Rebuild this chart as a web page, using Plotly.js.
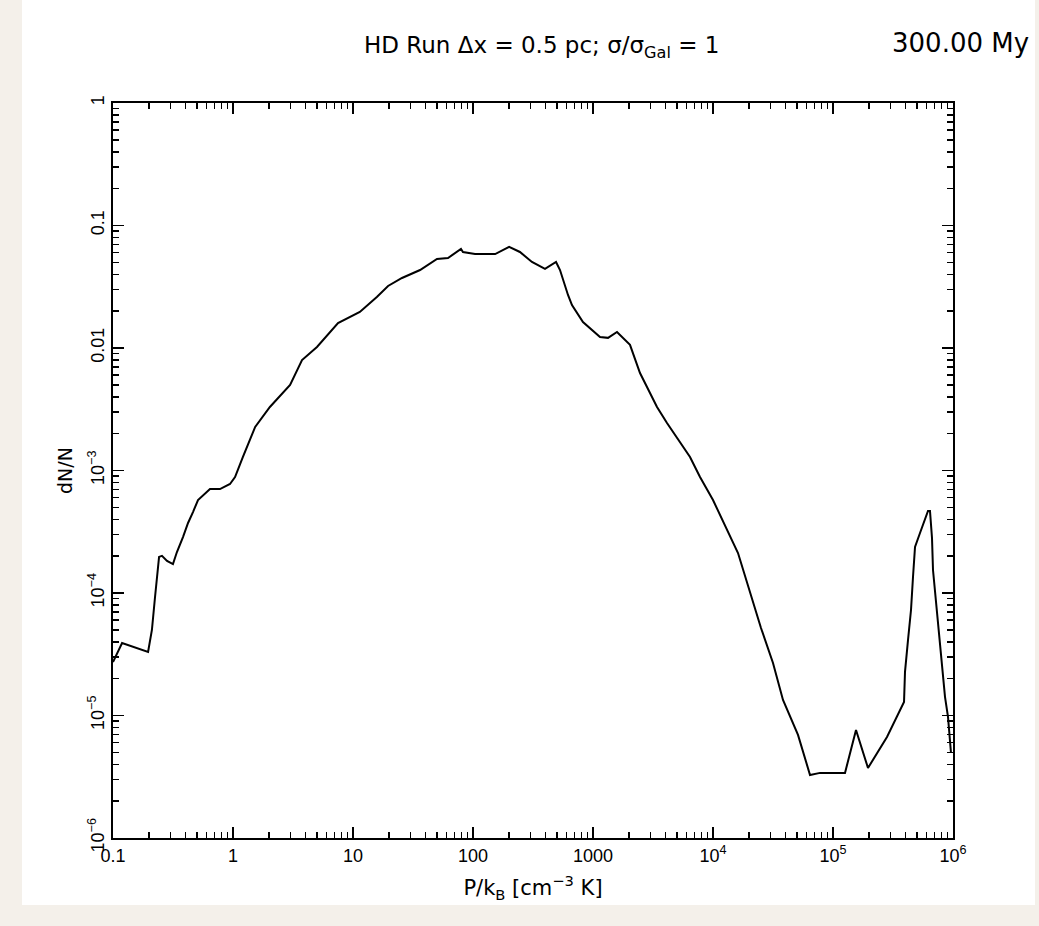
<!DOCTYPE html>
<html>
<head>
<meta charset="utf-8">
<script src="https://cdn.plot.ly/plotly-3.0.1.min.js"></script>
<style>
  html, body { margin:0; padding:0; background:#f4f0ea; width:1039px; height:926px; overflow:hidden; }
  #chart { position:absolute; left:22px; top:0px; width:1013px; height:905px; background:#ffffff; }
</style>
</head>
<body>
<div id="chart"></div>
<script>
// Pressure P/kB [cm^-3 K]
const pressure = [0.1, 0.119, 0.196, 0.211, 0.224, 0.233, 0.242, 0.256, 0.282, 0.316,
  0.341, 0.383, 0.422, 0.464, 0.511, 0.643, 0.779, 0.944, 1.04, 1.21,
  1.53, 2.03, 2.99, 3.76, 5.01, 7.50, 11.4, 15.8, 19.6, 25.6,
  36.2, 50.1, 61.9, 79.4, 82.5, 104, 153, 200, 246, 310,
  398, 492, 531, 619, 668, 825, 1144, 1334, 1585, 2034,
  2464, 3415, 4137, 6433, 7794, 10000, 16160, 25120, 31620, 38310,
  51090, 64340, 77940, 125900, 155500, 195700, 281800, 390700, 398100, 421700,
  446700, 464200, 482500, 530900, 619000, 643100, 668300, 681300, 721800, 764500,
  809800, 857700, 908500, 962300];
// dN/N
const dNN = [2.73e-5, 3.91e-5, 3.30e-5, 4.99e-5, 9.27e-5, 1.35e-4, 1.97e-4, 2.01e-4, 1.83e-4, 1.72e-4,
  2.16e-4, 2.86e-4, 3.73e-4, 4.58e-4, 5.74e-4, 7.06e-4, 7.06e-4, 7.76e-4, 8.85e-4, 1.29e-3,
  2.27e-3, 3.30e-3, 4.99e-3, 7.98e-3, 1.02e-2, 1.60e-2, 1.97e-2, 2.61e-2, 3.21e-2, 3.73e-2,
  4.33e-2, 5.33e-2, 5.43e-2, 6.43e-2, 6.08e-2, 5.85e-2, 5.85e-2, 6.68e-2, 6.08e-2, 5.04e-2,
  4.42e-2, 5.04e-2, 4.33e-2, 2.71e-2, 2.24e-2, 1.63e-2, 1.23e-2, 1.21e-2, 1.35e-2, 1.06e-2,
  6.25e-3, 3.30e-3, 2.44e-3, 1.29e-3, 8.85e-4, 5.74e-4, 2.12e-4, 5.18e-5, 2.68e-5, 1.34e-5,
  6.94e-6, 3.27e-6, 3.40e-6, 3.40e-6, 7.62e-6, 3.73e-6, 6.67e-6, 1.29e-5, 2.27e-5, 4.13e-5,
  7.26e-5, 1.35e-4, 2.38e-4, 3.09e-4, 4.67e-4, 4.67e-4, 2.81e-4, 1.54e-4, 8.61e-5, 4.81e-5,
  2.73e-5, 1.42e-5, 9.73e-6, 4.94e-6];

const xTickVals = [0.1, 1, 10, 100, 1000, 1e4, 1e5, 1e6];
const xTickText = ['0.1', '1', '10', '100', '1000', '10<sup>4</sup>', '10<sup>5</sup>', '10<sup>6</sup>'];
const yTickVals = [1e-6, 1e-5, 1e-4, 1e-3, 0.01, 0.1, 1];
const yTickText = ['10<sup>−6</sup>', '10<sup>−5</sup>', '10<sup>−4</sup>', '10<sup>−3</sup>', '0.01', '0.1', '1'];

const titleText = 'HD Run Δx = 0.5 pc; σ/σ<sub>Gal</sub> = 1';
const timeText = '300.00 My';
const xTitle = 'P/k<sub>B</sub> [cm<sup>−3</sup> K]';
const yTitle = 'dN/N';

const fontFam = 'Liberation Sans, Arial, sans-serif';
const wideFam = 'DejaVu Sans, Liberation Sans, sans-serif';

const trace = {
  x: pressure, y: dNN, type: 'scatter', mode: 'lines',
  line: {color: '#000000', width: 2}, hoverinfo: 'skip'
};

const axisCommon = {
  type: 'log', showgrid: false, zeroline: false,
  showline: true, linecolor: '#000', linewidth: 2, mirror: 'ticks',
  ticks: 'inside', ticklen: 11, tickwidth: 1.5, tickcolor: '#000',
  tickmode: 'array',
  tickfont: {family: fontFam, size: 18, color: '#000'},
  minor: {ticks: 'inside', ticklen: 6, tickwidth: 1.5, tickcolor: '#000', dtick: 'D1', showgrid: false}
};

const layout = {
  width: 1013, height: 905,
  margin: {l: 91, r: 82, t: 103, b: 67},
  paper_bgcolor: '#ffffff', plot_bgcolor: '#ffffff',
  showlegend: false,
  xaxis: Object.assign({}, axisCommon, {
    range: [-1, 6], tickvals: xTickVals, ticktext: xTickText,
    title: {text: xTitle, font: {family: wideFam, size: 21, color: '#000'}, standoff: 16}
  }),
  yaxis: Object.assign({}, axisCommon, {
    range: [-6, 0], tickvals: yTickVals, ticktext: yTickText, tickangle: -90,
    title: {text: yTitle, font: {family: wideFam, size: 19, color: '#000'}, standoff: 8}
  }),
  annotations: [
    {text: titleText, xref: 'paper', yref: 'paper', x: 0.51, y: 1, yshift: 56, xanchor: 'center', yanchor: 'middle',
     showarrow: false, font: {family: wideFam, size: 23, color: '#000'}},
    {text: timeText, xref: 'paper', yref: 'paper', x: 1, xshift: 78, y: 1, yshift: 60, xanchor: 'right', yanchor: 'middle',
     showarrow: false, font: {family: wideFam, size: 26, color: '#000'}}
  ]
};

Plotly.newPlot('chart', [trace], layout, {displayModeBar: false, staticPlot: true});
</script>
</body>
</html>
